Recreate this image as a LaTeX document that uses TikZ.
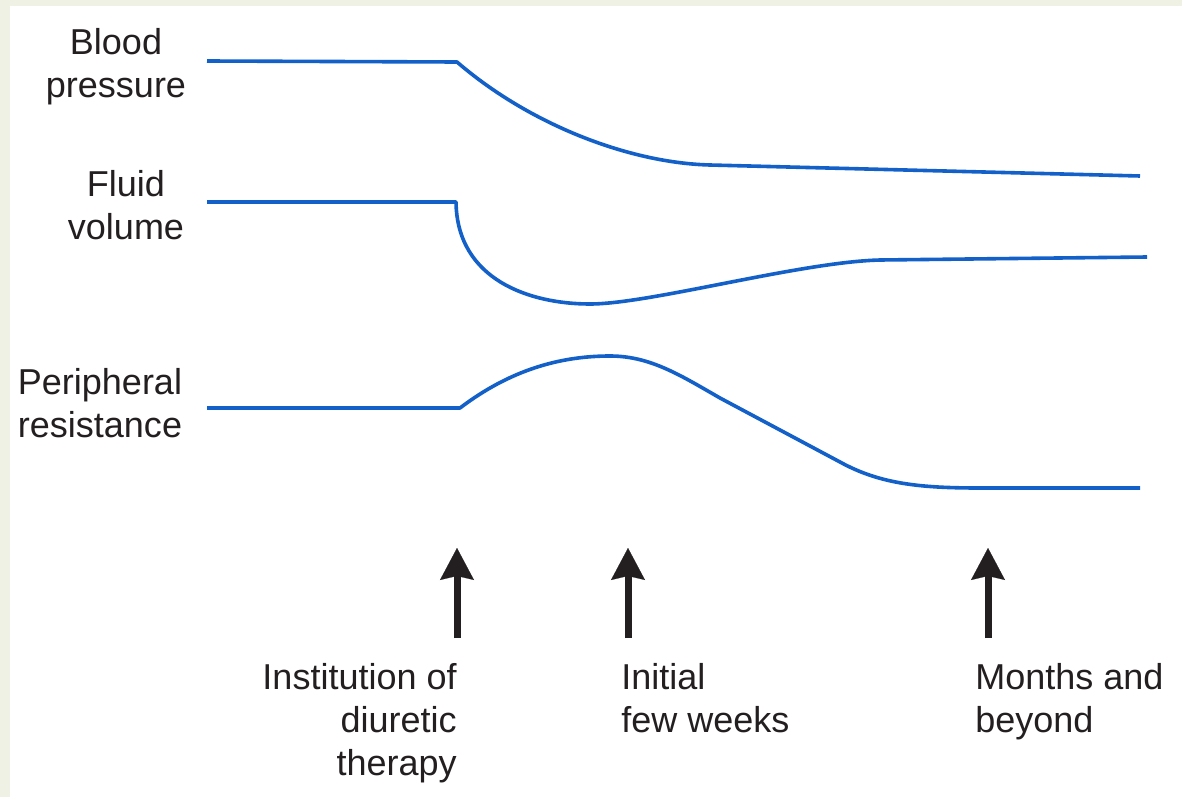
\documentclass[tikz,border=0pt]{standalone}
\usepackage{fontspec}
\setmainfont{Liberation Sans}
\usetikzlibrary{arrows.meta,positioning}
\definecolor{ink}{HTML}{231F20}
\definecolor{curve}{HTML}{1260C8}
\definecolor{frame}{HTML}{EFF1E4}
\tikzset{
  trace/.style={draw=curve, line width=1.8pt, line join=round},
  cue/.style={draw=ink, line width=3.5pt,
              -{Stealth[length=16pt, width=17pt, inset=2pt, line width=0.1pt]}},
  qty/.style={align=center, text=ink, inner sep=0pt,
              font=\fontsize{18}{21.5}\selectfont},
  when/.style={text=ink, inner sep=0pt,
              font=\fontsize{18}{21.5}\selectfont},
}

\begin{document}
\begin{tikzpicture}[x=0.5pt, y=-0.5pt]

% --- canvas -------------------------------------------------------------
\fill[frame] (0,0) rectangle (1182,797);
\fill[white] (10,6) rectangle (1182,797);
\useasboundingbox (0,0) rectangle (1182,797);

% --- quantities ---------------------------------------------------------
\node[qty] (bp) at (116,67) {Blood\\pressure};
\node[qty] (fv) at (126,205) {Fluid\\volume};
\node[qty] (pr) at (100,403) {Peripheral\\resistance};

\draw[trace] (207,61) -- (457,62)
  .. controls (530,125) and (630,163) .. (710,165) -- (1140,176);
\draw[trace] (207,202) -- (456,202)
  .. controls (457,280) and (530,304) .. (590,304)
  .. controls (650,304) and (800,262) .. (880,260) -- (1147,257);
\draw[trace] (207,408) -- (460,408)
  .. controls (510,370) and (560,356) .. (610,356)
  .. controls (650,356) and (680,375) .. (720,398) -- (840,462)
  .. controls (880,484) and (920,488) .. (980,488) -- (1140,488);

% --- time cues ----------------------------------------------------------
\coordinate (baseA) at (457,638);
\coordinate (tipA) at (457,548);
\coordinate (baseB) at (628,638);
\coordinate (tipB) at (628,548);
\coordinate (baseC) at (988,638);
\coordinate (tipC) at (988,548);
\draw[cue] (baseA) -- (tipA);
\draw[cue] (baseB) -- (tipB);
\draw[cue] (baseC) -- (tipC);

\node[when, align=right, below=12.5pt of baseA, anchor=north east] (inst)
  {Institution of\\diuretic\\therapy};
\node[when, align=left, below=12.5pt of baseB, anchor=north west, xshift=-3.5pt] (init)
  {Initial\\few weeks};
\node[when, align=left, below=12.5pt of baseC, anchor=north west, xshift=-6.5pt] (mon)
  {Months and\\beyond};
\end{tikzpicture}
\end{document}
